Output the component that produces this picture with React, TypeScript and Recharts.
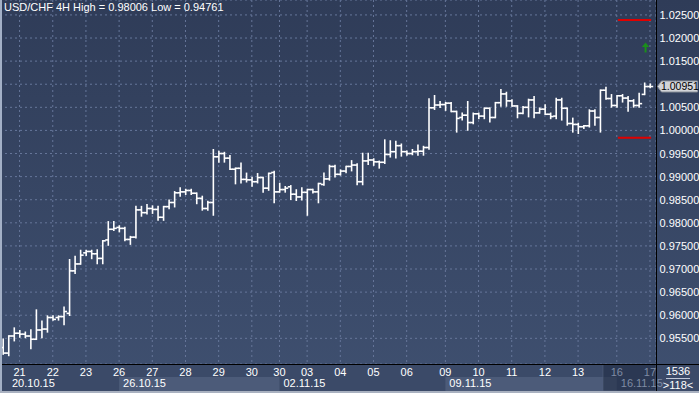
import React from "react"
import {
  Bar,
  CartesianGrid,
  ComposedChart,
  ReferenceArea,
  ReferenceDot,
  ReferenceLine,
  XAxis,
  YAxis,
} from "recharts"

// USD/CHF 4H bars, oldest first
const opens = [
  0.953, 0.9518, 0.9555, 0.9561, 0.9559, 0.9555, 0.9548, 0.9568, 0.957, 0.9595,
  0.9595, 0.9597, 0.9604, 0.9696, 0.9711, 0.9735, 0.9738, 0.9733, 0.9723, 0.9763,
  0.9786, 0.979, 0.9788, 0.9764, 0.9769, 0.9828, 0.9822, 0.9831, 0.9829, 0.9812,
  0.9835, 0.9844, 0.9865, 0.9867, 0.987, 0.9864, 0.9853, 0.9831, 0.9844, 0.9943,
  0.995, 0.994, 0.9916, 0.9918, 0.9894, 0.9893, 0.9889, 0.9898, 0.9875, 0.9909,
  0.9867, 0.9872, 0.9878, 0.9862, 0.9856, 0.9866, 0.9872, 0.9867, 0.9883, 0.9895,
  0.9922, 0.9905, 0.9912, 0.9922, 0.9925, 0.9889, 0.9934, 0.9936, 0.9932, 0.9931,
  0.9948, 0.9954, 0.9967, 0.9954, 0.995, 0.9954, 0.9955, 0.9963, 1.0049, 1.0055,
  1.0056, 1.0059, 1.0041, 1.0028, 1.0033, 1.0017, 1.0036, 1.0031, 1.0048, 1.0028,
  1.006, 1.0079, 1.0064, 1.0053, 1.0037, 1.005, 1.0066, 1.0038, 1.0046, 1.0035,
  1.0031, 1.0066, 1.0048, 1.0015, 1.0013, 1.0008, 1.001, 1.0042, 1.0028, 1.0087,
  1.0069, 1.0054, 1.0075, 1.007, 1.0064, 1.0054, 1.0078, 1.0095,
]
const highs = [
  0.9548, 0.9555, 0.9572, 0.9566, 0.9563, 0.9568, 0.9611, 0.9587, 0.9598, 0.9598,
  0.9598, 0.9617, 0.972, 0.9727, 0.974, 0.974, 0.974, 0.9741, 0.9761, 0.9802,
  0.9802, 0.9793, 0.979, 0.977, 0.9835, 0.9835, 0.9839, 0.9836, 0.9835, 0.9835,
  0.9849, 0.9867, 0.9875, 0.9872, 0.9872, 0.9864, 0.9857, 0.9846, 0.9958, 0.9954,
  0.9952, 0.9945, 0.9918, 0.9929, 0.9907, 0.9898, 0.9906, 0.9898, 0.9907, 0.9911,
  0.9885, 0.9878, 0.988, 0.9871, 0.9875, 0.9872, 0.9872, 0.9885, 0.9907, 0.9924,
  0.9924, 0.9914, 0.9922, 0.9934, 0.9927, 0.995, 0.995, 0.9938, 0.9933, 0.9979,
  0.9977, 0.9976, 0.997, 0.9955, 0.9958, 0.9968, 0.9965, 1.0068, 1.0075, 1.0062,
  1.006, 1.006, 1.0041, 1.0037, 1.0062, 1.0037, 1.0037, 1.0048, 1.0048, 1.006,
  1.0088, 1.0082, 1.0066, 1.0053, 1.0051, 1.0067, 1.0073, 1.0048, 1.0055, 1.0037,
  1.0069, 1.0069, 1.0048, 1.0026, 1.0015, 1.001, 1.0044, 1.0044, 1.0087, 1.0093,
  1.0077, 1.0075, 1.0077, 1.0073, 1.0066, 1.008, 1.0102, 1.01,
]
const lows = [
  0.9516, 0.9513, 0.9545, 0.9553, 0.9552, 0.9528, 0.9548, 0.9552, 0.9564, 0.959,
  0.959, 0.958, 0.96, 0.9691, 0.9711, 0.973, 0.9723, 0.9712, 0.9712, 0.9752,
  0.9784, 0.9781, 0.9762, 0.9754, 0.9768, 0.9815, 0.982, 0.9821, 0.9806, 0.9806,
  0.9831, 0.9835, 0.9858, 0.9862, 0.9862, 0.9842, 0.9828, 0.9828, 0.9817, 0.9932,
  0.9932, 0.9916, 0.9885, 0.9887, 0.9889, 0.988, 0.9887, 0.9867, 0.9871, 0.9844,
  0.9867, 0.9867, 0.9851, 0.9849, 0.985, 0.9817, 0.9865, 0.9844, 0.9882, 0.9893,
  0.99, 0.9904, 0.9909, 0.9913, 0.9883, 0.9883, 0.9927, 0.9925, 0.9919, 0.9929,
  0.9943, 0.9941, 0.9945, 0.9947, 0.9948, 0.9947, 0.9947, 0.996, 1.0046, 1.005,
  1.0044, 1.0041, 0.9997, 1.0023, 1.0001, 1.0015, 1.0026, 1.0026, 1.0019, 1.0028,
  1.0053, 1.0053, 1.0053, 1.0028, 1.0037, 1.003, 1.0028, 1.0038, 1.0035, 1.0026,
  1.0026, 1.0023, 1.0012, 0.9997, 0.9994, 1.0005, 1.0008, 1.0012, 0.9997, 1.0068,
  1.0051, 1.0051, 1.0062, 1.0042, 1.0051, 1.0051, 1.0078, 1.0093,
]
const closes = [
  0.9518, 0.9555, 0.9561, 0.9559, 0.9555, 0.9548, 0.9568, 0.957, 0.9595, 0.9591,
  0.9597, 0.9608, 0.9696, 0.9711, 0.973, 0.9738, 0.9733, 0.9723, 0.9761, 0.9786,
  0.9788, 0.9788, 0.9764, 0.9769, 0.9828, 0.9822, 0.9831, 0.9829, 0.9812, 0.9835,
  0.9844, 0.9865, 0.9867, 0.987, 0.9864, 0.9853, 0.9831, 0.9844, 0.9943, 0.995,
  0.994, 0.9916, 0.9918, 0.9894, 0.9893, 0.9889, 0.9898, 0.9875, 0.9907, 0.9867,
  0.9872, 0.9875, 0.9862, 0.9856, 0.9866, 0.9872, 0.9867, 0.9885, 0.9895, 0.9922,
  0.9905, 0.9912, 0.9922, 0.9925, 0.9889, 0.9934, 0.9936, 0.9932, 0.9931, 0.9948,
  0.9954, 0.9967, 0.9954, 0.995, 0.9954, 0.9955, 0.9963, 1.0049, 1.0055, 1.0056,
  1.0059, 1.0041, 1.0026, 1.0033, 1.0017, 1.0036, 1.0031, 1.0048, 1.0028, 1.006,
  1.0079, 1.0064, 1.0053, 1.0037, 1.005, 1.0066, 1.0038, 1.0046, 1.0035, 1.003,
  1.0066, 1.0048, 1.0015, 1.0013, 1.0008, 1.001, 1.0042, 1.0028, 1.0087, 1.0069,
  1.0054, 1.0075, 1.007, 1.0064, 1.0054, 1.0058, 1.0095, 1.0095,
]

// time panel
const dayStarts = [3, 9, 15, 21, 27, 33, 39, 45, 50, 55, 61, 67, 73, 80, 86, 92, 98, 104, 111, 117]
const dayLabels = ["21", "22", "23", "26", "27", "28", "29", "30", "30", "03", "04", "05", "06", "09", "10", "11", "12", "13", "16", "17"]
const weekStarts = [0, 21, 50, 80, 111]
const weekLabels = ["20.10.15", "26.10.15", "02.11.15", "09.11.15", "16.11.15"]
const shadedWeeks = [
  [21, 50],
  [80, 111],
]
const dimFrom = 108.5

const priceTicks = [1.025, 1.02, 1.015, 1.01, 1.005, 1.0, 0.995, 0.99, 0.985, 0.98, 0.975, 0.97, 0.965, 0.96, 0.955]
const lastPrice = 1.00951
const upperLevel = 1.0239
const lowerLevel = 0.99842
const levelFrom = 111.2
const levelTo = 117.2
const signalAt = 116.2
const signalPrice = 1.01795

const xDomain = [-0.54, 118.09]
const yDomain = [0.94944, 1.02823]
// price bands used for the two rows of the time panel under the plot
const dayRow = [0.94663, 0.94944]
const weekRow = [0.9436, 0.94663]

const FONT = "'Liberation Sans Narrow', 'Arial Narrow', 'Liberation Sans', Arial, sans-serif"

const bars = opens.map((o, i) => ({
  i,
  o,
  h: highs[i],
  l: lows[i],
  c: closes[i],
  range: [lows[i], highs[i]],
}))

function OhlcBar(props: any) {
  const { x, y, width, height, payload } = props
  const { o, h, l, c } = payload
  const cx = x + width / 2
  const k = h > l ? height / (h - l) : 0
  const yo = y + (h - o) * k
  const yc = y + (h - c) * k
  return (
    <g stroke="#ffffff" strokeWidth={1.6}>
      <line x1={cx} x2={cx} y1={y - 0.8} y2={y + height + 0.8} />
      <line x1={cx - 3} x2={cx} y1={yo} y2={yo} />
      <line x1={cx} x2={cx + 3} y1={yc} y2={yc} />
    </g>
  )
}

function DayTick({ x, y, payload }: any) {
  const idx = dayStarts.indexOf(payload.value)
  const dim = payload.value >= dimFrom
  return (
    <text x={x} y={y + 12} textAnchor="middle" fill={dim ? "#7f8ca4" : "#ffffff"} fontSize={11} fontFamily={FONT}>
      {dayLabels[idx]}
    </text>
  )
}

function WeekTick({ x, y, payload }: any) {
  const idx = weekStarts.indexOf(payload.value)
  const dim = payload.value >= dimFrom
  return (
    <text x={x + (idx === 0 ? 9 : 4)} y={y + 9} textAnchor="start" fill={dim ? "#7f8ca4" : "#ffffff"} fontSize={11} fontFamily={FONT}>
      {weekLabels[idx]}
    </text>
  )
}

function PriceTick({ x, y, payload }: any) {
  // the last-price tag covers the nearest level label
  if (Math.abs(payload.value - lastPrice) < 0.002) return <g />
  return (
    <text x={x + 3.5} y={y + 4} textAnchor="start" fill="#ffffff" fontSize={11} fontFamily={FONT}>
      {payload.value.toFixed(5)}
    </text>
  )
}

// drawn at the right edge of the plot, on the last price
function PriceTag({ cx, cy }: any) {
  const left = cx + 1.5
  return (
    <g>
      <polygon
        points={`${left},${cy} ${left + 4},${cy - 5.5} ${left + 40},${cy - 5.5} ${left + 40},${cy + 5.5} ${left + 4},${cy + 5.5}`}
        fill="#d2d4d8"
        stroke="#8d929c"
      />
      <text x={left + 3.5} y={cy + 4} fill="#000000" fontSize={10.5} fontFamily={FONT}>
        {lastPrice.toFixed(5)}
      </text>
    </g>
  )
}

function SignalArrow({ cx, cy }: any) {
  return (
    <g fill="#1b8f1b">
      <polygon points={`${cx},${cy - 5} ${cx - 3.7},${cy - 0.5} ${cx + 3.7},${cy - 0.5}`} />
      <rect x={cx - 1} y={cy - 1} width={2} height={6} />
    </g>
  )
}

export default function App() {
  return (
    <div
      style={{
        position: "absolute",
        left: 0,
        top: 0,
        width: 699,
        height: 393,
        overflow: "hidden",
        background: "linear-gradient(#2f3c58, #3f5070)",
        fontFamily: FONT,
      }}
    >
      <div style={{ position: "absolute", left: 0, top: 364, width: 699, height: 29, background: "#3b4a68" }} />
      <ComposedChart width={699} height={393} data={bars} margin={{ top: 0, right: 0, bottom: 0, left: 0 }}>
        {shadedWeeks.map(([a, b]) => (
          <ReferenceArea
            key={a}
            x1={a}
            x2={b}
            y1={weekRow[0]}
            y2={weekRow[1]}
            fill="#4c5b79"
            fillOpacity={1}
            stroke="none"
            ifOverflow="visible"
          />
        ))}
        <ReferenceArea
          x1={dimFrom}
          x2={xDomain[1]}
          y1={weekRow[0]}
          y2={dayRow[1]}
          fill="#1f2a42"
          fillOpacity={0.55}
          stroke="#56647e"
          strokeOpacity={0.6}
          ifOverflow="visible"
        />
        <CartesianGrid stroke="#66769a" strokeDasharray="2 3" />
        <XAxis
          xAxisId={0}
          type="number"
          dataKey="i"
          domain={xDomain}
          allowDataOverflow
          ticks={dayStarts}
          interval={0}
          tick={<DayTick />}
          tickLine={false}
          axisLine={false}
          tickSize={0}
          tickMargin={0}
          height={14}
        />
        <XAxis
          xAxisId="w"
          type="number"
          dataKey="i"
          domain={xDomain}
          allowDataOverflow
          ticks={weekStarts}
          interval={0}
          tick={<WeekTick />}
          tickLine={false}
          axisLine={false}
          tickSize={0}
          tickMargin={0}
          height={15}
        />
        <YAxis
          orientation="right"
          type="number"
          domain={yDomain}
          allowDataOverflow
          ticks={priceTicks}
          interval={0}
          tick={<PriceTick />}
          tickLine={false}
          axisLine={false}
          tickSize={0}
          tickMargin={0}
          width={43}
        />
        <Bar dataKey="range" barSize={4} shape={<OhlcBar />} isAnimationActive={false} />
        <ReferenceLine
          segment={[
            { x: levelFrom, y: upperLevel },
            { x: levelTo, y: upperLevel },
          ]}
          stroke="#e00000"
          strokeWidth={2}
        />
        <ReferenceLine
          segment={[
            { x: levelFrom, y: lowerLevel },
            { x: levelTo, y: lowerLevel },
          ]}
          stroke="#e00000"
          strokeWidth={2}
        />
        <ReferenceDot x={signalAt} y={signalPrice} shape={<SignalArrow />} />
        <ReferenceDot x={xDomain[1]} y={lastPrice} shape={<PriceTag />} ifOverflow="visible" />
      </ComposedChart>
      {/* frame */}
      <div style={{ position: "absolute", left: 656, top: 0, width: 1, height: 393, background: "#000" }} />
      <div style={{ position: "absolute", left: 0, top: 364, width: 699, height: 1, background: "#000" }} />
      <div style={{ position: "absolute", left: 0, top: 0, width: 2, height: 393, background: "#a3b0c6" }} />
      <div style={{ position: "absolute", left: 0, top: 391, width: 699, height: 2, background: "#a9b1c0" }} />
      <div style={{ position: "absolute", left: 4, top: 1, color: "#fff", fontSize: 11, lineHeight: "13px", whiteSpace: "nowrap" }}>
        USD/CHF 4H High = 0.98006 Low = 0.94761
      </div>
      <div style={{ position: "absolute", left: 657, top: 365, width: 42, textAlign: "center", color: "#fff", fontSize: 11, lineHeight: "12px" }}>
        1536
      </div>
      <div style={{ position: "absolute", left: 666, top: 378, width: 24, height: 1, background: "#c0c8d8" }} />
      <div style={{ position: "absolute", left: 657, top: 379, width: 42, textAlign: "center", color: "#fff", fontSize: 11, lineHeight: "12px" }}>
        {">118<"}
      </div>
    </div>
  )
}
